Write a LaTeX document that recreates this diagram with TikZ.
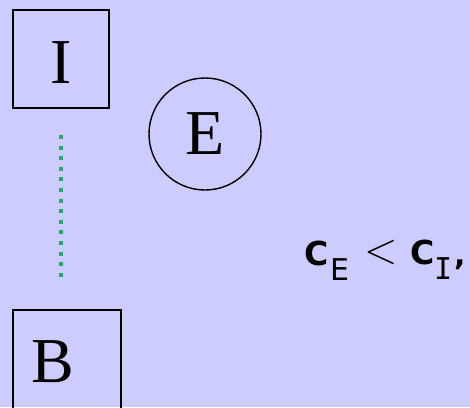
\documentclass[tikz,border=0pt]{standalone}
\usepackage{fontspec}
\setmainfont{Liberation Serif}
\newfontfamily\sansf{DejaVu Sans}
\newfontfamily\sansb{DejaVu Sans Bold}
\newfontfamily\monof{DejaVu Sans Mono}
\newfontfamily\lmf{Latin Modern Roman}
\definecolor{bg}{RGB}{204,204,255}
\definecolor{dotgreen}{RGB}{55,160,115}
\tikzset{
  boxline/.style={draw=black, line width=1.4pt},
  bigletter/.style={inner sep=0pt, anchor=base, font=\fontsize{64}{70}\selectfont},
  formula/.style={inner sep=0pt, anchor=base west},
}
\begin{document}
\begin{tikzpicture}[x=1pt,y=-1pt]
  \fill[bg] (0,0) rectangle (470,407);
  \useasboundingbox (0,0) rectangle (470,407);
  \draw[boxline] (13,10) rectangle (109,108);
  \draw[boxline] (13,310) rectangle (121,420);
  \draw[boxline] (205,134) circle (56);
  \node[bigletter] (I) at (61,83) {I};
  \node[bigletter] (E) at (205,154) {E};
  \node[bigletter] (B) at (53,382) {B};
  \coordinate (dtop) at (61,135);
  \coordinate (dbot) at (61,281);
  \draw[dotgreen, line width=4pt, dash pattern=on 4pt off 6.6pt] (dtop) -- (dbot);
  \node[formula, font=\sansb\fontsize{33}{40}\selectfont] (c1) at (304.5,265) {C};
  \node[formula, font=\sansf\fontsize{30}{36}\selectfont] (e1) at (330,280) {E};
  \node[formula, font=\lmf\fontsize{44}{50}\selectfont] (lt) at (364.5,263) {<};
  \node[formula, font=\sansb\fontsize{33}{40}\selectfont] (c2) at (410.5,264) {C};
  \node[formula, font=\monof\fontsize{30}{36}\selectfont] (i2) at (434,279) {I};
  \node[formula, font=\sansb\fontsize{30}{36}\selectfont] (cm) at (454,265) {,};
\end{tikzpicture}
\end{document}
